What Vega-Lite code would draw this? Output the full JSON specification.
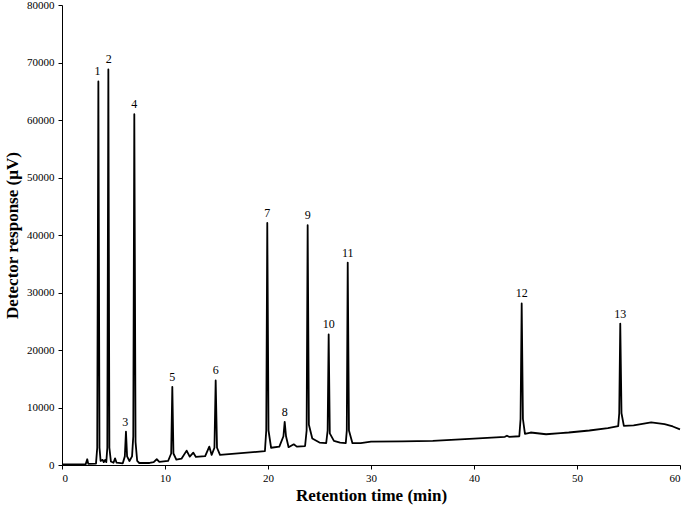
{
  "$schema": "https://vega.github.io/schema/vega-lite/v6.json",
  "width": 618,
  "height": 460,
  "autosize": {"type": "none"},
  "padding": {"left": 62, "top": 5, "right": 5, "bottom": 46},
  "background": "white",
  "config": {
    "view": {"stroke": null},
    "font": "Times New Roman",
    "axis": {"grid": false, "domainColor": "black", "tickColor": "black", "labelColor": "black", "titleColor": "black", "labelFont": "Times New Roman", "titleFont": "Times New Roman", "labelFontSize": 11, "titleFontSize": 17, "titleFontWeight": "bold", "tickSize": 4, "domainWidth": 1}
  },
  "datasets": {
    "trace": [
      {"t": 0, "v": 100}, {"t": 1, "v": 120}, {"t": 2.3, "v": 150}, {"t": 2.45, "v": 1000}, {"t": 2.55, "v": 200},
      {"t": 3.3, "v": 250}, {"t": 3.42, "v": 3000}, {"t": 3.53, "v": 66700}, {"t": 3.64, "v": 3000}, {"t": 3.75, "v": 700},
      {"t": 3.95, "v": 900}, {"t": 4.05, "v": 500}, {"t": 4.2, "v": 900}, {"t": 4.3, "v": 500}, {"t": 4.4, "v": 3000},
      {"t": 4.5, "v": 68800}, {"t": 4.6, "v": 3000}, {"t": 4.75, "v": 600}, {"t": 5.0, "v": 400}, {"t": 5.15, "v": 1150},
      {"t": 5.3, "v": 400}, {"t": 5.9, "v": 300}, {"t": 6.1, "v": 1500}, {"t": 6.21, "v": 5800}, {"t": 6.32, "v": 1500},
      {"t": 6.55, "v": 700}, {"t": 6.8, "v": 1500}, {"t": 6.92, "v": 5000}, {"t": 7.02, "v": 61000}, {"t": 7.14, "v": 4000},
      {"t": 7.3, "v": 700}, {"t": 7.5, "v": 350}, {"t": 8.5, "v": 350}, {"t": 8.9, "v": 500}, {"t": 9.2, "v": 1000},
      {"t": 9.45, "v": 550}, {"t": 10.3, "v": 700}, {"t": 10.6, "v": 2000}, {"t": 10.71, "v": 13600}, {"t": 10.82, "v": 2000},
      {"t": 11.1, "v": 950}, {"t": 11.6, "v": 1100}, {"t": 12.1, "v": 2500}, {"t": 12.4, "v": 1450}, {"t": 12.75, "v": 2150},
      {"t": 13.0, "v": 1400}, {"t": 13.9, "v": 1550}, {"t": 14.3, "v": 3200}, {"t": 14.53, "v": 1750}, {"t": 14.8, "v": 3000},
      {"t": 14.92, "v": 14700}, {"t": 15.05, "v": 3000}, {"t": 15.34, "v": 1750}, {"t": 19.7, "v": 2400}, {"t": 19.83, "v": 6000},
      {"t": 19.93, "v": 42100}, {"t": 20.05, "v": 6000}, {"t": 20.3, "v": 3000}, {"t": 21.1, "v": 3200}, {"t": 21.5, "v": 5000},
      {"t": 21.62, "v": 7500}, {"t": 21.75, "v": 5000}, {"t": 22.0, "v": 3100}, {"t": 22.5, "v": 3600}, {"t": 22.8, "v": 3200},
      {"t": 23.6, "v": 3300}, {"t": 23.75, "v": 6000}, {"t": 23.85, "v": 41700}, {"t": 23.97, "v": 7000}, {"t": 24.3, "v": 4600},
      {"t": 25.0, "v": 3900}, {"t": 25.65, "v": 3800}, {"t": 25.79, "v": 6000}, {"t": 25.89, "v": 22700}, {"t": 26.0, "v": 5500},
      {"t": 26.4, "v": 4200}, {"t": 27.0, "v": 3900}, {"t": 27.55, "v": 3800}, {"t": 27.65, "v": 6000}, {"t": 27.74, "v": 35200},
      {"t": 27.86, "v": 6000}, {"t": 28.2, "v": 3800}, {"t": 29.0, "v": 3800}, {"t": 30.0, "v": 4050}, {"t": 33.0, "v": 4100},
      {"t": 36.0, "v": 4200}, {"t": 40.0, "v": 4600}, {"t": 43.0, "v": 4900}, {"t": 43.2, "v": 5100}, {"t": 43.4, "v": 4900},
      {"t": 44.4, "v": 5000}, {"t": 44.52, "v": 8000}, {"t": 44.63, "v": 28100}, {"t": 44.75, "v": 8000}, {"t": 44.95, "v": 5400},
      {"t": 45.5, "v": 5650}, {"t": 47.0, "v": 5350}, {"t": 48.4, "v": 5550}, {"t": 49.2, "v": 5650}, {"t": 51.2, "v": 6000},
      {"t": 53.0, "v": 6400}, {"t": 54.0, "v": 6750}, {"t": 54.1, "v": 9000}, {"t": 54.2, "v": 24600}, {"t": 54.32, "v": 9000},
      {"t": 54.55, "v": 6800}, {"t": 55.5, "v": 6900}, {"t": 57.2, "v": 7400}, {"t": 58.5, "v": 7100}, {"t": 59.3, "v": 6700},
      {"t": 60.0, "v": 6200}
    ],
    "labels": [
      {"t": 3.45, "v": 66700, "n": "1"}, {"t": 4.55, "v": 68800, "n": "2"}, {"t": 6.15, "v": 5800, "n": "3"},
      {"t": 7.02, "v": 61000, "n": "4"}, {"t": 10.71, "v": 13600, "n": "5"}, {"t": 14.92, "v": 14700, "n": "6"},
      {"t": 19.93, "v": 42100, "n": "7"}, {"t": 21.62, "v": 7500, "n": "8"}, {"t": 23.85, "v": 41700, "n": "9"},
      {"t": 25.89, "v": 22700, "n": "10"}, {"t": 27.74, "v": 35200, "n": "11"}, {"t": 44.63, "v": 28100, "n": "12"},
      {"t": 54.2, "v": 24600, "n": "13"}
    ]
  },
  "layer": [
    {
      "data": {"name": "trace"},
      "mark": {"type": "line", "color": "black", "strokeWidth": 1.8, "strokeJoin": "round"},
      "encoding": {
        "x": {"field": "t", "type": "quantitative", "scale": {"domain": [0, 60], "nice": false}, "axis": {"values": [0, 10, 20, 30, 40, 50, 60], "title": "Retention time (min)", "titlePadding": 4, "labelPadding": 3}},
        "y": {"field": "v", "type": "quantitative", "scale": {"domain": [0, 80000], "nice": false}, "axis": {"values": [0, 10000, 20000, 30000, 40000, 50000, 60000, 70000, 80000], "format": "d", "title": "Detector response (µV)", "labelPadding": 4, "titleX": -50, "titleY": 230, "titleAnchor": "middle", "titleAlign": "center", "titleBaseline": "middle", "titleAngle": -90}}
      }
    },
    {
      "data": {"name": "labels"},
      "mark": {"type": "text", "font": "Times New Roman", "fontSize": 12, "color": "black", "baseline": "alphabetic", "dy": -6},
      "encoding": {
        "x": {"field": "t", "type": "quantitative"},
        "y": {"field": "v", "type": "quantitative"},
        "text": {"field": "n"}
      }
    }
  ]
}
